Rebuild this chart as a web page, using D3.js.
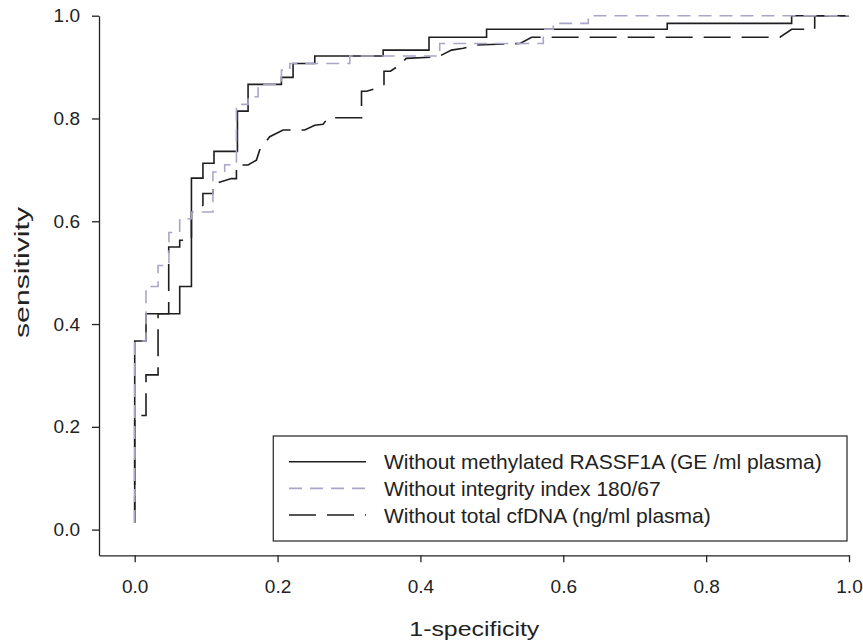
<!DOCTYPE html>
<html>
<head>
<meta charset="utf-8">
<script src="https://cdn.jsdelivr.net/npm/d3@7"></script>
<style>
body { margin: 0; background: #fff; }
svg { display: block; }
text { font-family: "Liberation Sans", Arial, Helvetica, sans-serif; fill: #222; }
</style>
</head>
<body>
<svg class="roc" width="863" height="643"></svg>
<script>
//ROC curves, points are [1-specificity, sensitivity]
var rassfCurve = [
  [0,0.013],[0,0.367],[0.0158,0.367],[0.0158,0.42],[0.063,0.42],[0.063,0.473],
  [0.0794,0.473],[0.0794,0.684],[0.0955,0.684],[0.0955,0.713],[0.111,0.713],
  [0.111,0.736],[0.1438,0.736],[0.1438,0.8144],[0.1587,0.8144],[0.1587,0.8664],
  [0.2054,0.8664],[0.2054,0.880],[0.2217,0.880],[0.2217,0.907],[0.2521,0.907],
  [0.2521,0.9215],[0.3478,0.9215],[0.3478,0.933],[0.412,0.933],[0.412,0.958],
  [0.4926,0.958],[0.4926,0.9735],[0.7455,0.9735],[0.7455,0.985],[0.9197,0.985],
  [0.9197,1.0],[1,1]
];
var integrityCurve = [
  [0,0.013],[0,0.367],[0.0158,0.367],[0.0158,0.473],[0.0327,0.473],[0.0327,0.514],
  [0.0479,0.514],[0.0479,0.578],[0.063,0.578],[0.063,0.605],[0.0794,0.605],
  [0.0794,0.618],[0.1095,0.618],[0.1095,0.696],[0.126,0.696],[0.126,0.710],
  [0.1424,0.710],[0.1424,0.8275],[0.1587,0.8275],[0.1587,0.8424],[0.1727,0.8424],
  [0.1727,0.8664],[0.2054,0.8664],[0.2054,0.894],[0.2171,0.894],[0.2171,0.907],
  [0.3011,0.907],[0.3011,0.9215],[0.427,0.9215],[0.427,0.946],[0.572,0.946],
  [0.572,0.9735],[0.586,0.9735],[0.586,0.985],[0.635,0.985],[0.635,1.0],[1,1]
];
var cfdnaCurve = [
  [0,0.013],[0,0.222],[0.0158,0.222],[0.0158,0.301],[0.0327,0.301],[0.0327,0.42],
  [0.0476,0.42],[0.0476,0.550],[0.063,0.550],[0.063,0.563],[0.0794,0.563],
  [0.0794,0.618],[0.0955,0.631],[0.0955,0.654],[0.1095,0.654],[0.1095,0.672],
  [0.1354,0.683],[0.1424,0.683],[0.1424,0.7095],[0.1587,0.7095],[0.1704,0.719],
  [0.175,0.7388],[0.189,0.7645],[0.2077,0.7775],[0.238,0.7775],[0.252,0.787],
  [0.2637,0.7886],[0.2707,0.8014],[0.3175,0.8014],[0.3175,0.853],[0.3245,0.853],
  [0.3385,0.8587],[0.349,0.8664],[0.349,0.892],[0.358,0.892],[0.371,0.904],
  [0.380,0.917],[0.4248,0.920],[0.4435,0.933],[0.46,0.9366],[0.4785,0.943],
  [0.5396,0.946],[0.5556,0.958],[0.9034,0.958],[0.9197,0.9735],[0.952,0.9735],
  [0.952,1.0],[1,1]
];

var legendLabels = [
  "Without methylated RASSF1A (GE /ml plasma)",
  "Without integrity index 180/67",
  "Without total cfDNA (ng/ml plasma)"
];
var tickValues = [0, 0.2, 0.4, 0.6, 0.8, 1.0];

var svg = d3.select(".roc");

var xScale = d3.scaleLinear()
.domain([-0.05, 1])
.range([99, 849]);

var yScale = d3.scaleLinear()
.domain([-0.05, 1])
.range([555.3, 15.7]);

var tickFont = 19;
var titleFont = 21;
var legendFont = 21;

//Axes, the domain paths give the L shaped frame
var yAxis = d3.axisLeft(yScale)
.tickValues(tickValues)
.tickFormat(d3.format(".1f"))
.tickSize(7)
.tickSizeOuter(0)
.tickPadding(12);

var xAxis = d3.axisBottom(xScale)
.tickValues(tickValues)
.tickFormat(d3.format(".1f"))
.tickSize(7)
.tickSizeOuter(0)
.tickPadding(17.5);

var gy = svg.append("g")
.attr("transform", "translate(99,0)")
.call(yAxis);

var gx = svg.append("g")
.attr("transform", "translate(0,555.3)")
.call(xAxis);

[gx, gy].forEach(g => {
  g.selectAll("path, line").attr("stroke", "#222").attr("stroke-width", 1.3);
  g.selectAll("text")
  .attr("fill", "#222")
  .style("font-family", "'Liberation Sans', Arial, sans-serif")
  .style("font-size", tickFont + "px");
});

//Axis titles are drawn wide in the original
svg.append("text")
.attr("transform", "translate(28.5,272.5) rotate(-90)")
.attr("text-anchor", "middle")
.attr("textLength", 131)
.attr("lengthAdjust", "spacingAndGlyphs")
.style("font-size", titleFont + "px")
.text("sensitivity");

svg.append("text")
.attr("x", 474.3)
.attr("y", 636)
.attr("text-anchor", "middle")
.attr("textLength", 130)
.attr("lengthAdjust", "spacingAndGlyphs")
.style("font-size", titleFont + "px")
.text("1-specificity");

//Curves
var line = d3.line()
.x(d => xScale(d[0]))
.y(d => yScale(d[1]));

var series = [
  { data: rassfCurve, color: "#1e1e1e", dash: null },
  { data: cfdnaCurve, color: "#1e1e1e", dash: "27,11" },
  { data: integrityCurve, color: "#a9a7c8", dash: "13,8" }
];

series.forEach(s => {
  svg.append("path")
  .datum(s.data)
  .attr("d", line)
  .attr("fill", "none")
  .attr("stroke", s.color)
  .attr("stroke-width", 1.6)
  .attr("stroke-dasharray", s.dash);
});

//Legend
var legend = svg.append("g");

legend.append("rect")
.attr("x", 273.3)
.attr("y", 436)
.attr("width", 573.7)
.attr("height", 105)
.attr("fill", "#fff")
.attr("stroke", "#333")
.attr("stroke-width", 1.3);

var legendStyles = [
  { color: "#1e1e1e", dash: null },
  { color: "#a9a7c8", dash: "13,8" },
  { color: "#1e1e1e", dash: "27,11" }
];

legendLabels.forEach((label, i) => {
  var ly = 461.7 + i * 26.65;
  legend.append("line")
  .attr("x1", 289)
  .attr("x2", 366)
  .attr("y1", ly)
  .attr("y2", ly)
  .attr("stroke", legendStyles[i].color)
  .attr("stroke-width", 1.6)
  .attr("stroke-dasharray", legendStyles[i].dash);

  legend.append("text")
  .attr("x", 384)
  .attr("y", ly)
  .attr("dy", "0.36em")
  .style("font-size", legendFont + "px")
  .text(label);
});
</script>
</body>
</html>
